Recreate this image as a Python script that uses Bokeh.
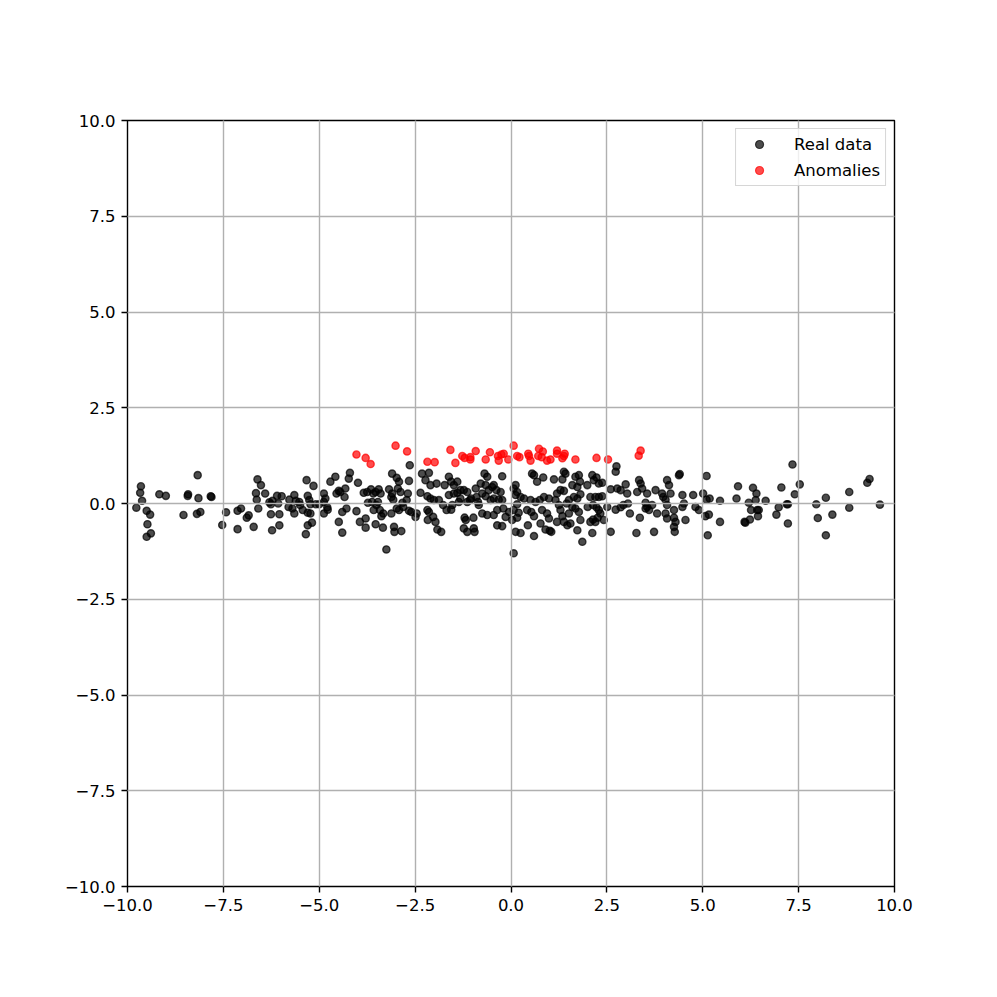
from bokeh.plotting import figure
from bokeh.models import Range1d, FixedTicker, CustomJSTickFormatter, Legend, LegendItem
from bokeh.embed import file_html
from bokeh.resources import INLINE

# ---- data: real data, split by x-region ----
real_x_a = [-9.65, -9.67, -9.62, -9.77, -9.50, -9.41, -9.48, -9.39, -9.50, -9.17, -9.00, -8.17, -8.42, -8.43, -8.15, -7.83, -7.81, -8.54, -8.19, -8.10,
            -7.43, -7.53, -7.13, -7.13, -7.04, -6.89, -6.84, -6.71, -6.61, -6.52, -6.65, -6.63, -6.59, -6.41, -6.30, -6.22, -6.10, -5.98, -6.26, -6.04,
            -6.04, -6.23, -6.26, -6.07, -5.78, -5.65, -5.61, -5.52, -5.80, -5.70, -5.65, -5.43, -5.50, -5.33, -5.15, -5.30, -5.26, -5.23, -5.09, -5.00,
            -5.30, -5.23, -5.30, -5.19, -5.35]
real_y_a = [0.45, 0.28, 0.07, -0.11, -0.19, -0.29, -0.54, -0.78, -0.87, 0.24, 0.20, 0.74, 0.24, 0.20, 0.14, 0.19, 0.17, -0.30, -0.27, -0.22,
            -0.23, -0.56, -0.67, -0.19, -0.13, -0.37, -0.31, -0.61, 0.63, 0.48, 0.27, 0.10, -0.13, 0.26, 0.03, 0.07, 0.20, 0.19, -0.28, -0.28,
            -0.57, -0.70, -0.02, 0.00, 0.10, 0.22, 0.07, 0.04, -0.09, -0.13, -0.26, -0.17, -0.04, 0.61, 0.46, 0.20, 0.09, -0.02, -0.02, -0.02,
            -0.24, -0.26, -0.57, -0.50, -0.80]

real_x_b = [-4.88, -4.84, -4.88, -4.79, -4.78, -4.88, -4.71, -4.58, -4.49, -4.55, -4.45, -4.32, -4.34, -4.29, -4.40, -4.49, -4.40,
            -4.20, -4.23, -3.99, -4.03, -3.94, -3.79, -3.79, -3.84, -3.75, -3.65, -3.59, -3.53, -3.45, -3.40,
            -3.73, -3.62, -3.58, -3.51, -3.47, -3.42, -3.38, -3.33, -3.53, -3.34,
            -3.18, -3.12, -3.10, -3.07, -3.12, -3.05, -3.04, -2.86, -3.25,
            -3.10, -2.98, -2.92, -2.95, -2.88, -2.98, -2.92, -2.81, -2.83, -2.72, -2.69, -2.66, -2.64, -2.66, -2.60, -2.46, -2.49]
real_y_b = [0.26, 0.13, 0.04, -0.10, -0.16, -0.26, 0.57, 0.70, 0.33, 0.26, 0.30, 0.39, 0.17, -0.13, -0.22, -0.48, -0.76,
            0.80, 0.65, 0.54, -0.20, -0.48, -0.39, -0.63, 0.28, 0.30, 0.37, 0.26, 0.30, 0.37, 0.26,
            0.02, 0.04, -0.17, -0.04, 0.04, -0.17, -0.33, -0.26, -0.54, -0.63,
            0.37, 0.17, 0.26, 0.10, -0.26, -0.61, -0.74, -0.72, -1.20,
            0.78, 0.67, 0.57, 0.39, 0.30, -0.13, -0.17, -0.09, 0.02, 0.09, 0.26, 0.59, 1.00, -0.19, -0.22, -0.26, -0.35]

real_x_c = [-2.32, -2.14, -2.23, -2.10, -1.94, -2.36, -2.18, -2.10, -2.01, -1.88,
            -2.18, -2.14, -2.17, -2.03, -1.97, -1.92, -1.82, -1.77, -1.68, -1.56, -1.53,
            -1.73, -1.62, -1.56, -1.49, -1.40, -1.62, -1.49, -1.40, -1.32, -1.23, -1.14,
            -1.36, -1.32, -1.14, -1.21, -1.18, -1.23, -1.14, -0.98, -0.97, -0.95,
            -1.07, -1.04, -0.92, -0.90, -0.86, -0.84, -0.79, -0.69, -0.62, -0.66, -0.58, -0.49,
            -0.75, -0.66, -0.53, -0.45, -0.32, -0.23, -0.23, -0.45, -0.38, -0.27, -0.36, -0.23,
            -0.75, -0.62, -0.45, -0.36, -0.20, -0.05, -0.14]
real_y_c = [0.78, 0.80, 0.61, 0.48, 0.52, 0.28, 0.19, 0.13, 0.09, 0.09,
            -0.17, -0.22, -0.43, -0.35, -0.48, -0.68, -0.74, -0.04, -0.17, -0.16, -0.04,
            0.48, 0.70, 0.57, 0.48, 0.57, 0.22, 0.26, 0.28, 0.35, 0.35, 0.30,
            0.04, 0.13, 0.04, -0.37, -0.43, -0.65, -0.74, -0.37, -0.65, -0.74,
            0.09, 0.13, 0.39, 0.17, 0.04, -0.04, 0.52, 0.78, 0.70, 0.48, 0.35, 0.43,
            0.26, 0.19, 0.09, 0.13, 0.10, 0.09, 0.71, 0.48, 0.35, 0.30, -0.57, -0.59,
            -0.26, -0.30, -0.30, -0.17, -0.13, -0.22, -0.35]

real_x_d = [0.12, 0.07, 0.16, 0.12, 0.25, 0.34, 0.16, 0.07, 0.20, 0.16, 0.03, 0.12, 0.25, 0.07,
            0.55, 0.68, 0.60, 0.84, 0.51, 0.64, 0.42, 0.53, 0.60, 0.44, 0.60, 0.77, 0.75, 0.86, 0.99, 0.81, 0.94, 0.99, 0.90, 1.01, 1.05,
            1.12, 1.34, 1.38, 1.42, 1.45, 1.51, 1.20, 1.29, 1.38, 1.16, 1.25, 1.29, 1.34, 1.20, 1.38, 1.47, 1.55, 1.51,
            1.60, 1.68, 1.77, 1.80, 1.73, 1.64, 1.73, 1.81, 1.60, 1.68, 1.77, 1.81, 1.73, 1.86,
            1.99, 2.12, 2.16, 2.23, 2.29, 2.38, 2.07, 2.20, 2.29, 2.38, 2.00, 2.14, 2.23, 2.29, 2.33, 2.26, 2.14, 2.20, 2.07, 2.12, 2.42,
            2.51, 2.60, 2.75, 2.73, 2.77, 2.86, 2.99, 3.03, 2.60, 2.73, 2.86, 2.93, 3.05, 3.10,
            3.34, 3.38, 3.42, 3.29, 3.55, 3.36, 3.27, 3.51, 3.55, 3.60, 3.51, 3.68, 3.73, 3.77, 3.81, 3.94, 3.97,
            4.07, 4.12, 4.16, 4.03, 4.07, 4.25, 4.03, 4.07, 4.25, 4.29, 4.25, 4.27, 4.38, 4.40, 4.47, 4.51, 4.47, 4.55, 4.75, 4.81, 4.90]
real_y_d = [0.48, 0.39, 0.30, 0.22, 0.17, 0.13, -0.02, -0.17, -0.24, -0.37, -0.43, -0.74, -0.77, -1.30,
            0.78, 0.57, 0.74, 0.68, 0.09, 0.04, -0.17, -0.22, -0.33, -0.57, -0.85, -0.52, 0.09, 0.17, 0.13, -0.17, -0.26, -0.39, -0.68, -0.71, -0.74,
            0.63, 0.63, 0.83, 0.78, 0.00, 0.09, 0.26, 0.35, 0.33, 0.09, -0.04, -0.17, -0.33, -0.48, -0.48, -0.57, -0.52, -0.26,
            0.48, 0.70, 0.74, 0.57, 0.43, 0.17, 0.13, 0.24, -0.09, -0.13, -0.22, -0.43, -0.70, -1.00,
            0.48, 0.74, 0.61, 0.68, 0.52, 0.54, 0.17, 0.17, 0.17, 0.19, -0.09, -0.04, -0.10, -0.17, -0.26, -0.37, -0.42, -0.48, -0.48, -0.77, -0.43,
            -0.09, 0.37, 0.97, 0.83, 0.39, 0.35, 0.50, 0.26, -0.74, -0.16, -0.10, -0.04, 0.00, -0.26,
            0.61, 0.52, 0.39, 0.30, 0.26, -0.37, -0.77, 0.02, -0.09, -0.17, -0.13, -0.04, -0.74, 0.35, -0.26, 0.26, 0.17,
            0.61, 0.48, 0.26, 0.10, -0.04, -0.17, -0.26, -0.39, -0.37, -0.48, -0.61, -0.74, 0.74, 0.77, 0.22, 0.00, -0.09, -0.43, 0.22, -0.09, -0.17]

real_x_e = [5.10, 5.01, 5.10, 5.18, 5.07, 5.16, 5.13, 5.45, 5.45, 5.92, 5.88, 6.20, 6.31, 6.40, 6.38, 6.64,
            6.26, 6.42, 6.46, 6.44, 6.23, 6.11, 6.09, 7.05, 6.98, 6.92, 7.22, 7.19, 7.22, 7.40, 7.53, 7.34,
            7.96, 8.21, 8.00, 8.38, 8.21, 8.82, 8.82, 9.29, 9.35, 9.62]
real_y_e = [0.72, 0.26, 0.10, 0.13, -0.33, -0.29, -0.83, 0.07, -0.48, 0.45, 0.13, 0.02, 0.41, 0.26, 0.09, 0.07,
            -0.17, -0.17, -0.17, -0.33, -0.42, -0.50, -0.48, 0.42, -0.10, -0.29, -0.02, -0.02, -0.52, 0.24, 0.50, 1.02,
            -0.02, 0.15, -0.38, -0.29, -0.83, 0.30, -0.11, 0.54, 0.64, -0.03]

# ---- data: anomalies ----
anom_x = [-4.03, -3.79, -3.66, -3.01, -2.71, -2.18, -1.99, -1.58, -1.45, -1.27,
          -1.21, -1.06, -1.06, -0.92, -0.66, -0.55, -0.34, -0.32,
          -0.25, -0.19, -0.07, 0.07, 0.16, 0.22, 0.45, 0.51, 0.47, 0.73,
          0.71, 0.83, 0.80, 0.94, 1.03, 1.20, 1.20, 1.34, 1.40, 1.38,
          1.68, 2.23, 2.53, 3.38, 3.33]
anom_y = [1.28, 1.19, 1.03, 1.51, 1.36, 1.09, 1.08, 1.40, 1.06, 1.24,
          1.19, 1.21, 1.15, 1.37, 1.15, 1.34, 1.24, 1.12,
          1.28, 1.30, 1.15, 1.51, 1.24, 1.21, 1.30, 1.12, 1.24, 1.43,
          1.24, 1.36, 1.21, 1.12, 1.15, 1.38, 1.30, 1.18, 1.30, 1.24,
          1.15, 1.19, 1.15, 1.38, 1.25]

tick_values = [-10.0, -7.5, -5.0, -2.5, 0.0, 2.5, 5.0, 7.5, 10.0]
series_labels = ["Real data", "Anomalies"]
series_colors = ["black", "red"]


def pair(xs, ys):
    n = min(len(xs), len(ys))
    return list(xs[:n]), list(ys[:n])


real_x, real_y = [], []
for xs, ys in [(real_x_a, real_y_a), (real_x_b, real_y_b), (real_x_c, real_y_c),
               (real_x_d, real_y_d), (real_x_e, real_y_e)]:
    a, b = pair(xs, ys)
    real_x += a
    real_y += b
ax_, ay_ = pair(anom_x, anom_y)

FONT = "DejaVu Sans"
FS = "16.5px"

p = figure(width=989, height=989, output_backend="svg", toolbar_location=None,
           x_range=Range1d(-10, 10), y_range=Range1d(-10, 10),
           min_border_left=127, min_border_right=95, min_border_top=120, min_border_bottom=103)
p.background_fill_color = "white"
p.border_fill_color = "white"
p.outline_line_color = "black"
p.outline_line_width = 1.4

for xs, ys, c in [(real_x, real_y, series_colors[0]), (ax_, ay_, series_colors[1])]:
    p.scatter(xs, ys, size=7.2, fill_color=c, fill_alpha=0.7,
              line_color=c, line_alpha=0.7, line_width=1.4)

# legend-only renderers (smaller handles, like matplotlib's legend); NaN => nothing plotted
nan = float("nan")
legend_items = []
for lab, c in zip(series_labels, series_colors):
    r = p.scatter(x=[nan], y=[nan], size=5.5, fill_color=c, fill_alpha=0.7,
                  line_color=c, line_alpha=0.7, line_width=1.2)
    legend_items.append(LegendItem(label=lab, renderers=[r], index=0))

fmt = CustomJSTickFormatter(code="return (tick < 0 ? '\u2212' : '') + Math.abs(tick).toFixed(1);")
for ax in (p.xaxis[0], p.yaxis[0]):
    ax.ticker = FixedTicker(ticks=tick_values)
    ax.formatter = fmt
    ax.axis_line_color = None
    ax.major_tick_line_color = "black"
    ax.major_tick_line_width = 1.4
    ax.major_tick_out = 6
    ax.major_tick_in = 0
    ax.minor_tick_line_color = None
    ax.major_label_text_font = FONT
    ax.major_label_text_font_size = FS
    ax.major_label_text_color = "black"
    ax.major_label_standoff = 6

for g in (p.xgrid[0], p.ygrid[0]):
    g.ticker = FixedTicker(ticks=tick_values)
    g.grid_line_color = "#b0b0b0"
    g.grid_line_width = 1.4
    g.level = "guide"

lg = Legend(items=legend_items, location="top_right")
lg.margin = 8
lg.padding = 5
lg.spacing = 6
lg.glyph_width = 36
lg.glyph_height = 20
lg.label_height = 20
lg.label_standoff = 17
lg.label_text_font = FONT
lg.label_text_font_size = FS
lg.label_text_color = "black"
lg.border_line_color = "#cccccc"
lg.border_line_width = 1
lg.border_line_alpha = 0.8
lg.background_fill_alpha = 0.8
p.add_layout(lg, "center")

open("out.html", "w").write(file_html(p, INLINE))
